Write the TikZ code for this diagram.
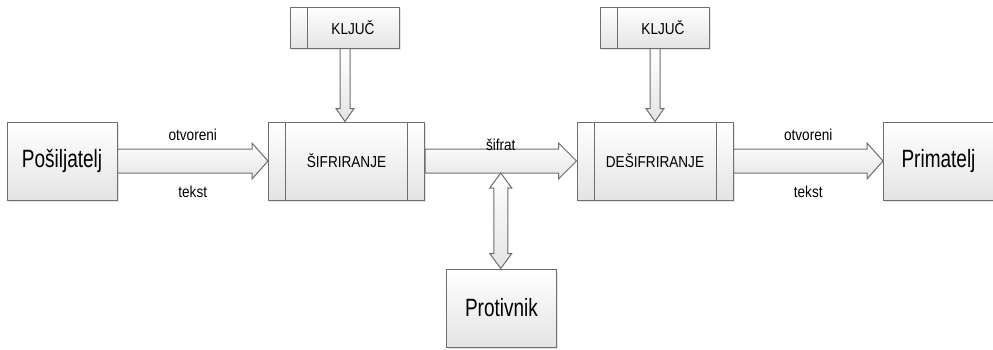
\documentclass[tikz,border=0pt]{standalone}
\usepackage{fontspec}
\setmainfont{Liberation Sans}
\newfontfamily\partyfont[FakeStretch=0.76]{Liberation Sans}
\newfontfamily\labelfont[FakeStretch=0.86]{Liberation Sans}
\usetikzlibrary{calc,shadows}

\definecolor{linegray}{HTML}{6E6E6E}
\definecolor{fillgray}{HTML}{E4E4E4}

% block arrow: from, to, shaft half width, head half width, head length
\newcommand\fatarrow[5]{%
  \path (#1) coordinate (fa-s) (#2) coordinate (fa-t) ($(#2)!#5!(#1)$) coordinate (fa-h);
  \draw[arrowbody] ($(fa-s)!#3!90:(fa-t)$) -- ($(fa-h)!#3!90:(fa-t)$) -- ($(fa-h)!#4!90:(fa-t)$)
    -- (fa-t) -- ($(fa-h)!#4!-90:(fa-t)$) -- ($(fa-h)!#3!-90:(fa-t)$) -- ($(fa-s)!#3!-90:(fa-t)$) -- cycle;
}
% block arrow with two heads
\newcommand\dblarrow[5]{%
  \path (#1) coordinate (fa-s) (#2) coordinate (fa-t) ($(#2)!#5!(#1)$) coordinate (fa-h)
    ($(#1)!#5!(#2)$) coordinate (fa-g);
  \draw[arrowbody] (fa-s) -- ($(fa-g)!#4!90:(fa-t)$) -- ($(fa-g)!#3!90:(fa-t)$) -- ($(fa-h)!#3!90:(fa-t)$)
    -- ($(fa-h)!#4!90:(fa-t)$) -- (fa-t) -- ($(fa-h)!#4!-90:(fa-t)$) -- ($(fa-h)!#3!-90:(fa-t)$)
    -- ($(fa-g)!#3!-90:(fa-t)$) -- ($(fa-g)!#4!-90:(fa-t)$) -- cycle;
}

\begin{document}
\begin{tikzpicture}[
  x=0.5pt, y=-0.5pt,
  box/.style={draw=linegray, line width=0.5pt, top color=white, bottom color=fillgray,
    inner sep=0pt, drop shadow={shadow xshift=0.8pt, shadow yshift=-0.8pt, opacity=0.2}},
  party/.style={box, minimum width=55pt, minimum height=39pt, font=\partyfont\fontsize{12.5}{14}\selectfont},
  process/.style={box, minimum width=78pt, minimum height=39pt, font=\labelfont\fontsize{7.9}{9}\selectfont,
    path picture={
      \draw[linegray, line width=0.5pt] ([xshift=8.5pt]path picture bounding box.north west) -- ([xshift=8.5pt]path picture bounding box.south west);
      \draw[linegray, line width=0.5pt] ([xshift=-8.5pt]path picture bounding box.north east) -- ([xshift=-8.5pt]path picture bounding box.south east);
    }},
  keybox/.style={box, minimum width=54.5pt, minimum height=20.5pt, font=\labelfont\fontsize{7.9}{9}\selectfont,
    text width=46pt, align=center,
    path picture={
      \draw[linegray, line width=0.5pt] ([xshift=8.5pt]path picture bounding box.north west) -- ([xshift=8.5pt]path picture bounding box.south west);
    }},
  arrowbody/.style={draw=linegray, line width=0.5pt, top color=white, bottom color=fillgray},
  note/.style={font=\labelfont\fontsize{7.9}{9}\selectfont, inner sep=1pt},
]
\useasboundingbox (0,0) rectangle (993,349);

\node[party] (posiljatelj) at (62,161) {Pošiljatelj};
\node[process] (sifriranje) at (346.5,161) {ŠIFRIRANJE};
\node[process] (desifriranje) at (655,161) {DEŠIFRIRANJE};
\node[party] (primatelj) at (938.5,161) {Primatelj};
\node[party] (protivnik) at (501.5,308) {Protivnik};
\node[keybox] (kljuc1) at (345,27.5) {\hspace*{8pt}KLJUČ};
\node[keybox] (kljuc2) at (655,27.5) {\hspace*{8pt}KLJUČ};

\fatarrow{posiljatelj.east}{sifriranje.west}{6pt}{9pt}{8pt}
\fatarrow{sifriranje.east}{desifriranje.west}{6pt}{9pt}{9pt}
\fatarrow{desifriranje.east}{primatelj.west}{6pt}{9pt}{8pt}
\fatarrow{kljuc1.south}{kljuc1.south |- sifriranje.north}{2.5pt}{4.5pt}{6.5pt}
\fatarrow{kljuc2.south}{kljuc2.south |- desifriranje.north}{2.5pt}{4.5pt}{6.5pt}

\coordinate (tap) at ($(sifriranje.east)!0.5!(desifriranje.west)+(0,-6pt)$);
\dblarrow{tap}{tap |- protivnik.north}{3.5pt}{5.5pt}{7.5pt}

\node[note] (otvoreni1) at ($(posiljatelj.east)!0.5!(sifriranje.west)+(0,13pt)$) {otvoreni};
\node[note] (tekst1) at ($(posiljatelj.east)!0.5!(sifriranje.west)+(0,-15.5pt)$) {tekst};
\node[note] (sifrat) at ($(sifriranje.east)!0.5!(desifriranje.west)+(0,8pt)$) {šifrat};
\node[note] (otvoreni2) at ($(desifriranje.east)!0.5!(primatelj.west)+(0,13pt)$) {otvoreni};
\node[note] (tekst2) at ($(desifriranje.east)!0.5!(primatelj.west)+(0,-15.5pt)$) {tekst};
\end{tikzpicture}
\end{document}
